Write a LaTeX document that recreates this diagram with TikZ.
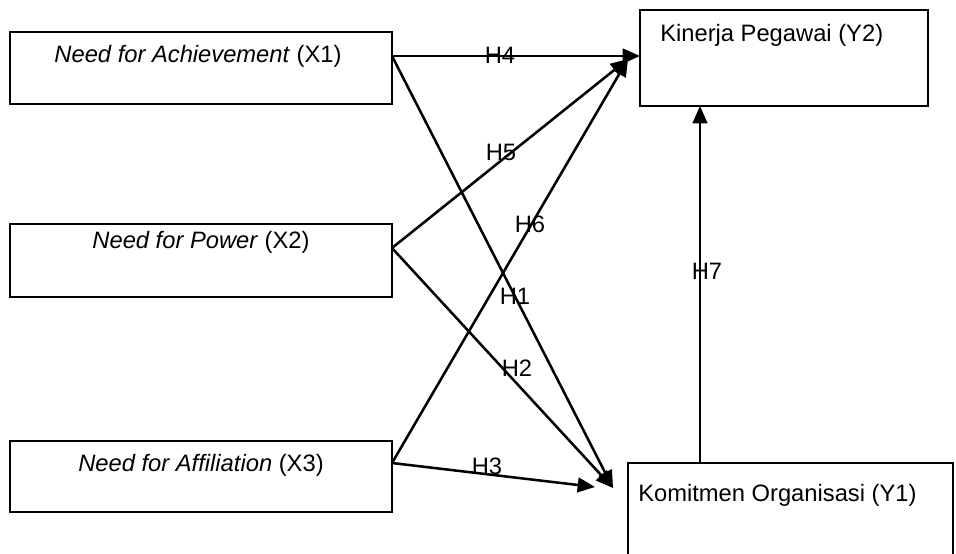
\documentclass[tikz,border=0pt]{standalone}
\usepackage{fontspec}
\setmainfont{Liberation Sans}
\usetikzlibrary{arrows.meta,calc}
\begin{document}
\begin{tikzpicture}[x=0.75pt,y=-0.75pt,
  box/.style={draw,line width=1.2pt,inner sep=0pt,outer sep=0pt},
  txt/.style={inner sep=0pt,font=\fontsize{17.8}{20}\selectfont},
  hyp/.style={inner sep=0pt,font=\fontsize{17.8}{20}\selectfont},
  conn/.style={line width=1.9pt,-{Triangle[length=13pt,width=11pt]}}]
\clip (0,0) rectangle (956,553);
% boxes
\node[box,minimum width=286.5pt,minimum height=54pt] (x1) at (201,68) {};
\node[box,minimum width=286.5pt,minimum height=54.75pt] (x2) at (201,260.5) {};
\node[box,minimum width=286.5pt,minimum height=53.25pt] (x3) at (201,476.5) {};
\node[box,minimum width=216pt,minimum height=72pt] (y2) at (784,58) {};
\node[box,minimum width=243.75pt,minimum height=90pt] (y1) at (790.5,523) {};
% texts
\node[txt,anchor=base] (x1t) at (198,62) {\textit{Need for Achievement} (X1)};
\node[txt,anchor=base] (x2t) at (201,248) {\textit{Need for Power} (X2)};
\node[txt,anchor=base] (x3t) at (201,471) {\textit{Need for Affiliation} (X3)};
\node[txt,anchor=base west] (y2t) at (660,41) {Kinerja Pegawai (Y2)};
\node[txt,anchor=base west] (y1t) at (638,501) {Komitmen Organisasi (Y1)};
% connection points
\coordinate (x1o) at ($(x1.north east)+(0,24)$);
\coordinate (x2o) at ($(x2.north east)+(0,24)$);
\coordinate (x3o) at ($(x3.north east)+(0,22)$);
\coordinate (y2a) at ($(y2.north west)+(0,46)$);
\coordinate (y2b) at ($(y2.north west)+(-12,49)$);
\coordinate (y1a) at ($(y1.north west)+(-15,25)$);
\coordinate (y1b) at ($(y1.north west)+(-33,24)$);
\coordinate (y1t7) at ($(y1.north west)+(72,0)$);
% connectors
\draw[conn] (x1o) -- (y2a);
\draw[conn] (x2o) -- (y2b);
\draw[conn] (x3o) -- (y2b);
\draw[conn] (x1o) -- (y1a);
\draw[conn] (x2o) -- (y1a);
\draw[conn] (x3o) -- (y1b);
\draw[conn] (y1t7) -- (y1t7 |- y2.south);
% labels
\node[hyp] (h4) at (500,55) {H4};
\node[hyp] (h5) at (501,152) {H5};
\node[hyp] (h6) at (530,224) {H6};
\node[hyp] (h1) at (515,296) {H1};
\node[hyp] (h2) at (517,368) {H2};
\node[hyp] (h3) at (487,466) {H3};
\node[hyp] (h7) at (707,271) {H7};
\end{tikzpicture}
\end{document}
